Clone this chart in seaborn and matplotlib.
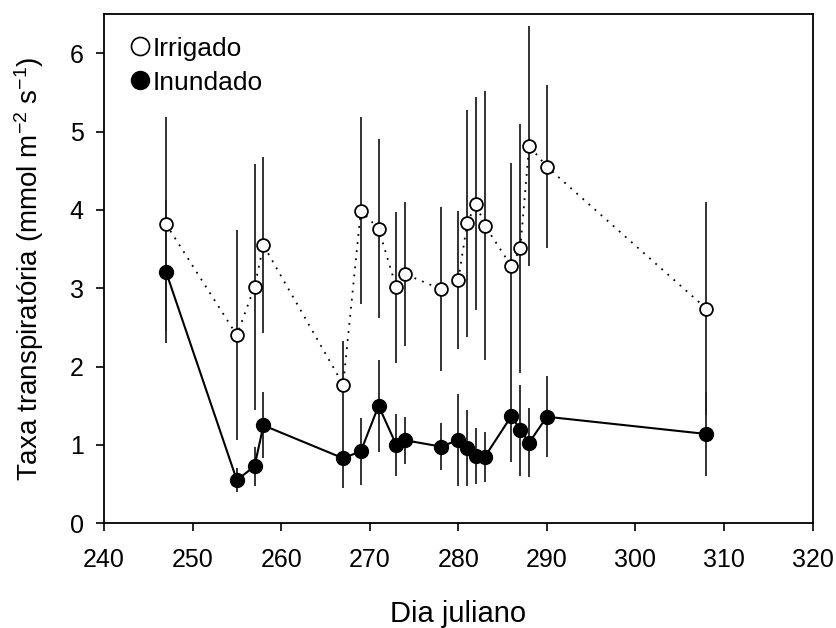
import matplotlib
matplotlib.use("Agg")
import matplotlib.pyplot as plt
from matplotlib.lines import Line2D
import seaborn as sns
import pandas as pd
import numpy as np

# Data
dias = [247, 255, 257, 258, 267, 269, 271, 273, 274, 278, 280, 281, 282, 283, 286, 287, 288, 290, 308]
irrigado = [3.82, 2.40, 3.02, 3.55, 1.77, 3.99, 3.76, 3.01, 3.18, 2.99, 3.10, 3.83, 4.08, 3.80, 3.28, 3.51, 4.82, 4.55, 2.74]
irrigado_err = [1.36, 1.34, 1.57, 1.12, 0.56, 1.19, 1.14, 0.96, 0.92, 1.05, 0.88, 1.45, 1.36, 1.72, 1.32, 1.59, 1.53, 1.04, 1.36]
inundado = [3.21, 0.55, 0.73, 1.25, 0.83, 0.92, 1.50, 1.00, 1.06, 0.98, 1.06, 0.96, 0.86, 0.85, 1.37, 1.19, 1.03, 1.36, 1.14]
inundado_err = [0.91, 0.15, 0.25, 0.42, 0.38, 0.43, 0.59, 0.40, 0.30, 0.30, 0.59, 0.49, 0.36, 0.32, 0.59, 0.58, 0.44, 0.52, 0.54]

df = pd.DataFrame({'dia': dias * 2,
                   'taxa': irrigado + inundado,
                   'err': irrigado_err + inundado_err,
                   'trat': ['Irrigado'] * len(dias) + ['Inundado'] * len(dias)})

sns.set_style('ticks')
plt.rcParams['font.family'] = ['Liberation Sans', 'DejaVu Sans']
plt.rcParams['mathtext.fontset'] = 'custom'
plt.rcParams['mathtext.rm'] = 'Liberation Sans'
plt.rcParams['mathtext.it'] = 'Liberation Sans'
plt.rcParams['mathtext.default'] = 'regular'
for k in ['text.color', 'axes.labelcolor', 'xtick.color', 'ytick.color', 'axes.edgecolor']:
    plt.rcParams[k] = 'black'

fig = plt.figure(figsize=(8.36, 6.28), dpi=100)
ax = fig.add_axes([0.1244, 0.1667, 0.8476, 0.811])

# error bars (no caps)
for trat in ['Irrigado', 'Inundado']:
    sub = df[df['trat'] == trat]
    ax.errorbar(sub['dia'], sub['taxa'], yerr=sub['err'], fmt='none',
                ecolor='#222222', elinewidth=1.3, capsize=0, zorder=1)

# lines
irr = df[df['trat'] == 'Irrigado']
inu = df[df['trat'] == 'Inundado']
sns.lineplot(data=irr, x='dia', y='taxa', ax=ax, color='black', lw=1.3,
             linestyle=(0, (1, 3.5)), sort=False, zorder=2, legend=False)
sns.lineplot(data=inu, x='dia', y='taxa', ax=ax, color='black', lw=1.5,
             sort=False, zorder=2, legend=False)
# markers
sns.scatterplot(data=irr, x='dia', y='taxa', ax=ax, marker='o', s=85,
                facecolor='white', edgecolor='black', linewidth=1.3, zorder=3, legend=False)
sns.scatterplot(data=inu, x='dia', y='taxa', ax=ax, marker='o', s=100,
                color='black', edgecolor='black', linewidth=1, zorder=4, legend=False)

ax.set_xlim(240, 320)
ax.set_ylim(0, 6.5)
ax.set_xticks(np.arange(240, 321, 10))
ax.set_yticks(np.arange(0, 7, 1))
ax.tick_params(labelsize=18, length=5.5, width=1.2, direction='out', colors='black')
ax.tick_params(axis='x', pad=12)
ax.tick_params(axis='y', pad=9)
for s in ax.spines.values():
    s.set_linewidth(1.3)
    s.set_color('black')

ax.set_xlabel('Dia juliano', fontsize=21)
ax.xaxis.set_label_coords(0.5, -0.15)
ax.set_ylabel('Taxa transpiratória (mmol m$^{-2}$ s$^{-1}$)', fontsize=20)
ax.yaxis.set_label_coords(-0.082, 0.5)

handles = [Line2D([], [], marker='o', linestyle='none', markersize=13,
                  markerfacecolor='white', markeredgecolor='black', markeredgewidth=1.2),
           Line2D([], [], marker='o', linestyle='none', markersize=13,
                  markerfacecolor='black', markeredgecolor='black')]
ax.legend(handles, ['Irrigado', 'Inundado'], loc='upper left', frameon=False,
          fontsize=19, handletextpad=0.0, handlelength=1.0, labelspacing=0.38,
          borderpad=0.4, borderaxespad=0.46, bbox_to_anchor=(0.0, 1.0))

fig.savefig('out.png', dpi=100)
